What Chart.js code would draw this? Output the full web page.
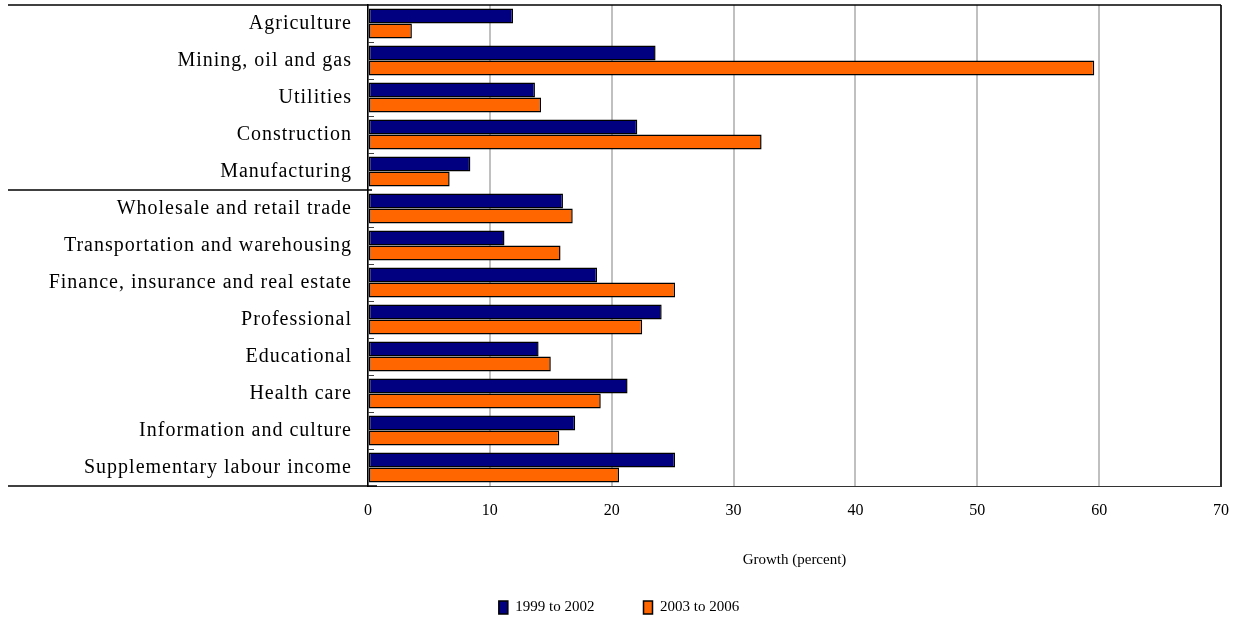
<!DOCTYPE html>
<html>
<head>
<meta charset="utf-8">
<script src="https://cdn.jsdelivr.net/npm/chart.js@4.4.1/dist/chart.umd.min.js"></script>
<style>
  html, body { margin: 0; padding: 0; background: #fff; }
</style>
</head>
<body>
<canvas id="growth-chart" width="1244" height="621"></canvas>
<script>
// Labour income growth by industry

const industries = [
    'Agriculture',
    'Mining, oil and gas',
    'Utilities',
    'Construction',
    'Manufacturing',
    'Wholesale and retail trade',
    'Transportation and warehousing',
    'Finance, insurance and real estate',
    'Professional',
    'Educational',
    'Health care',
    'Information and culture',
    'Supplementary labour income'
];
const growth1999to2002 = [11.9, 23.6, 13.7, 22.1, 8.4, 16.0, 11.2, 18.8, 24.1, 14.0, 21.3, 17.0, 25.2];
const growth2003to2006 = [3.6, 59.6, 14.2, 32.3, 6.7, 16.8, 15.8, 25.2, 22.5, 15.0, 19.1, 15.7, 20.6];
const seriesNames = ['1999 to 2002', '2003 to 2006'];
const xMin = 0;
const xMax = 70;
const xStep = 10;
const xTitle = 'Growth (percent)';

const SERIF = "'Liberation Serif', 'Times New Roman', serif";

// y labels in the original are drawn with a little extra tracking
const spacedLabels = {
    id: 'spacedLabels',
    afterLayout(chart) {
        const y = chart.scales.y;
        if (y._spaced) return;
        const drawLabels = y.drawLabels;
        y.drawLabels = function (area) {
            chart.ctx.save();
            chart.ctx.letterSpacing = '1px';
            drawLabels.call(this, area);
            chart.ctx.restore();
        };
        y._spaced = true;
    }
};

// frame, group separators and little category ticks
const frameLines = {
    id: 'frameLines',
    afterDraw(chart) {
        const { ctx, chartArea: a, scales: { y } } = chart;
        const line = (x1, y1, x2, y2) => {
            ctx.beginPath();
            ctx.moveTo(x1, y1);
            ctx.lineTo(x2, y2);
            ctx.stroke();
        };
        const boundary = (i) => (y.getPixelForValue(i) + y.getPixelForValue(i + 1)) / 2;

        ctx.save();
        ctx.strokeStyle = '#000';
        ctx.lineWidth = 1.5;
        line(8, a.top, a.right, a.top);
        line(a.right, a.top, a.right, a.bottom);
        const sep = boundary(4);
        line(8, sep, a.left + 4, sep);
        line(8, a.bottom, a.left + 9, a.bottom);

        ctx.strokeStyle = '#444';
        ctx.lineWidth = 1;
        for (let i = 0; i < industries.length - 1; i++) {
            if (i === 4) continue;
            const yb = Math.round(boundary(i)) + 0.5;
            line(a.left, yb, a.left + 6, yb);
        }
        ctx.restore();
    }
};

const ctx = document.getElementById('growth-chart').getContext('2d');
const chart = new Chart(ctx, {
    type: 'bar',
    data: {
        labels: industries,
        datasets: [{
            label: seriesNames[0],
            data: growth1999to2002,
            backgroundColor: '#000080',
            borderColor: '#000000',
            borderWidth: 1.5,
            borderSkipped: false
        }, {
            label: seriesNames[1],
            data: growth2003to2006,
            backgroundColor: '#ff6600',
            borderColor: '#000000',
            borderWidth: 1.5,
            borderSkipped: false
        }]
    },
    options: {
        indexAxis: 'y',
        responsive: false,
        animation: false,
        devicePixelRatio: 1,
        categoryPercentage: 0.81,
        barPercentage: 1.0,
        layout: { padding: { top: 5, right: 22, left: 16, bottom: -4 } },
        plugins: {
            tooltip: { enabled: false },
            legend: {
                position: 'bottom',
                labels: {
                    color: '#000',
                    font: { family: SERIF, size: 15 },
                    boxWidth: 9,
                    boxHeight: 13,
                    padding: 49
                }
            }
        },
        scales: {
            x: {
                min: xMin,
                max: xMax,
                afterFit: (s) => { s.height = 65; },
                ticks: {
                    stepSize: xStep,
                    color: '#000',
                    font: { family: SERIF, size: 16 },
                    padding: 15,
                    maxRotation: 0
                },
                grid: { color: '#c0c0c0', lineWidth: 2, drawTicks: false },
                border: { color: '#333', width: 1 },
                title: {
                    display: true,
                    text: xTitle,
                    color: '#000',
                    font: { family: SERIF, size: 15 },
                    padding: { top: 0, bottom: -18 }
                }
            },
            y: {
                afterFit: (s) => {
                    s.width = 352;
                    s.paddingTop = 0;
                    s.paddingBottom = 0;
                },
                ticks: {
                    color: '#000',
                    font: { family: SERIF, size: 20 },
                    padding: 16,
                    autoSkip: false
                },
                grid: { display: false, drawTicks: false },
                border: { color: '#000', width: 1.5 }
            }
        }
    },
    plugins: [spacedLabels, frameLines]
});
</script>
</body>
</html>
